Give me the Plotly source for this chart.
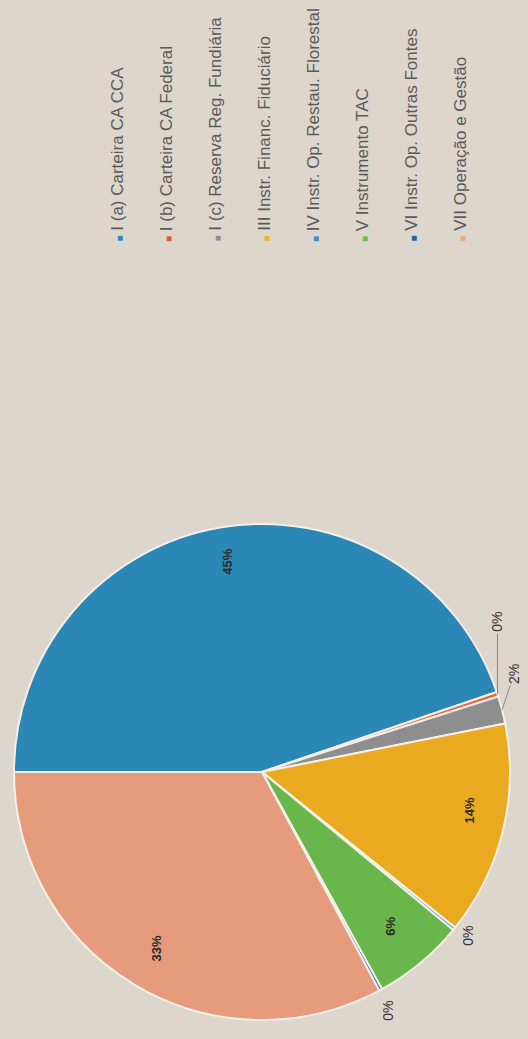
import numpy as np
import plotly.graph_objects as go

# ---- data ----
labels = ["I (a) Carteira CA CCA", "I (b) Carteira CA Federal", "I (c) Reserva Reg. Fundiária",
          "III Instr. Financ. Fiduciário", "IV Instr. Op. Restau. Florestal", "V Instrumento TAC",
          "VI Instr. Op. Outras Fontes", "VII Operação e Gestão"]
values = [45.0, 0.3, 1.8, 14.0, 0.2, 6.0, 0.2, 33.0]
slice_colors = ["#2b87b6", "#e8643c", "#8e8e8e", "#e9aa1f", "#3d8fcf", "#69b74a", "#1f5ea6", "#e69c7c"]
pct_labels = ["45%", "0%", "2%", "14%", "0%", "6%", "0%", "33%"]

W, H = 528, 1039
CX, CY, R = 262, 772, 248
BG = "#ddd6cc"

def px(x):
    return x / W

def py(y):
    return 1 - y / H

fig = go.Figure()
fig.add_trace(go.Pie(
    labels=labels, values=values, sort=False, direction="clockwise", rotation=270,
    marker=dict(colors=slice_colors, line=dict(color="#f3efe9", width=2)),
    textinfo="none", hoverinfo="label+percent", showlegend=False,
    domain=dict(x=[px(CX - R), px(CX + R)], y=[py(CY + R), py(CY - R)]),
))

# slice bisector angles (visual, degrees, counterclockwise from +x)
vals = np.array(values)
total = vals.sum()
cum = np.cumsum(vals) - vals / 2
theta = np.deg2rad(180 - 360 * cum / total)

def point(i, f):
    return CX + f * R * np.cos(theta[i]), CY - f * R * np.sin(theta[i])

annotations = []
inside = {0: 0.86, 3: 0.90, 5: 0.87, 7: 0.90}
for i, f in inside.items():
    x, y = point(i, f)
    annotations.append(dict(x=px(x), y=py(y), xref="paper", yref="paper", text="<b>%s</b>" % pct_labels[i],
                            textangle=-90, showarrow=False, font=dict(size=13, color="#2a2a2a",
                            family="Liberation Sans, Arial")))
# outside with leader lines
leader = {1: (0, -72), 2: (12, -36)}
for i, (ax, ay) in leader.items():
    x, y = point(i, 1.0)
    annotations.append(dict(x=px(x), y=py(y), xref="paper", yref="paper", text=pct_labels[i],
                            textangle=-90, showarrow=True, arrowhead=0, arrowwidth=1, arrowcolor="#8a8a8a",
                            ax=ax, ay=ay, font=dict(size=14, color="#333333", family="Liberation Sans, Arial")))
# outside without leader
for i, f in ((4, 1.12), (6, 1.15)):
    x, y = point(i, f)
    annotations.append(dict(x=px(x), y=py(y), xref="paper", yref="paper", text=pct_labels[i],
                            textangle=-90, showarrow=False,
                            font=dict(size=14, color="#333333", family="Liberation Sans, Arial")))

# legend drawn as rotated text
legend_colors = ["#2b87c0", "#e8583a", "#8e8e8e", "#efb41f", "#3a8fd2", "#6cc04a", "#1f5fa8", "#f2a47e"]
for i, lab in enumerate(labels):
    annotations.append(dict(
        x=px(117 + i * 49), y=py(244), xref="paper", yref="paper",
        xanchor="center", yanchor="bottom", textangle=-90, showarrow=False,
        text="<span style='color:%s;font-size:10px'>■</span> %s" % (legend_colors[i], lab),
        font=dict(size=17, color="#5a5a5a", family="Liberation Sans, Arial"),
    ))

fig.update_layout(width=W, height=H, margin=dict(l=0, r=0, t=0, b=0),
                  paper_bgcolor=BG, plot_bgcolor=BG, annotations=annotations, showlegend=False)
fig.write_html("out.html", config={"displayModeBar": False},
               post_script="document.body.style.margin='0';document.body.style.overflow='hidden';"
                           "document.body.style.background='%s';" % BG)
